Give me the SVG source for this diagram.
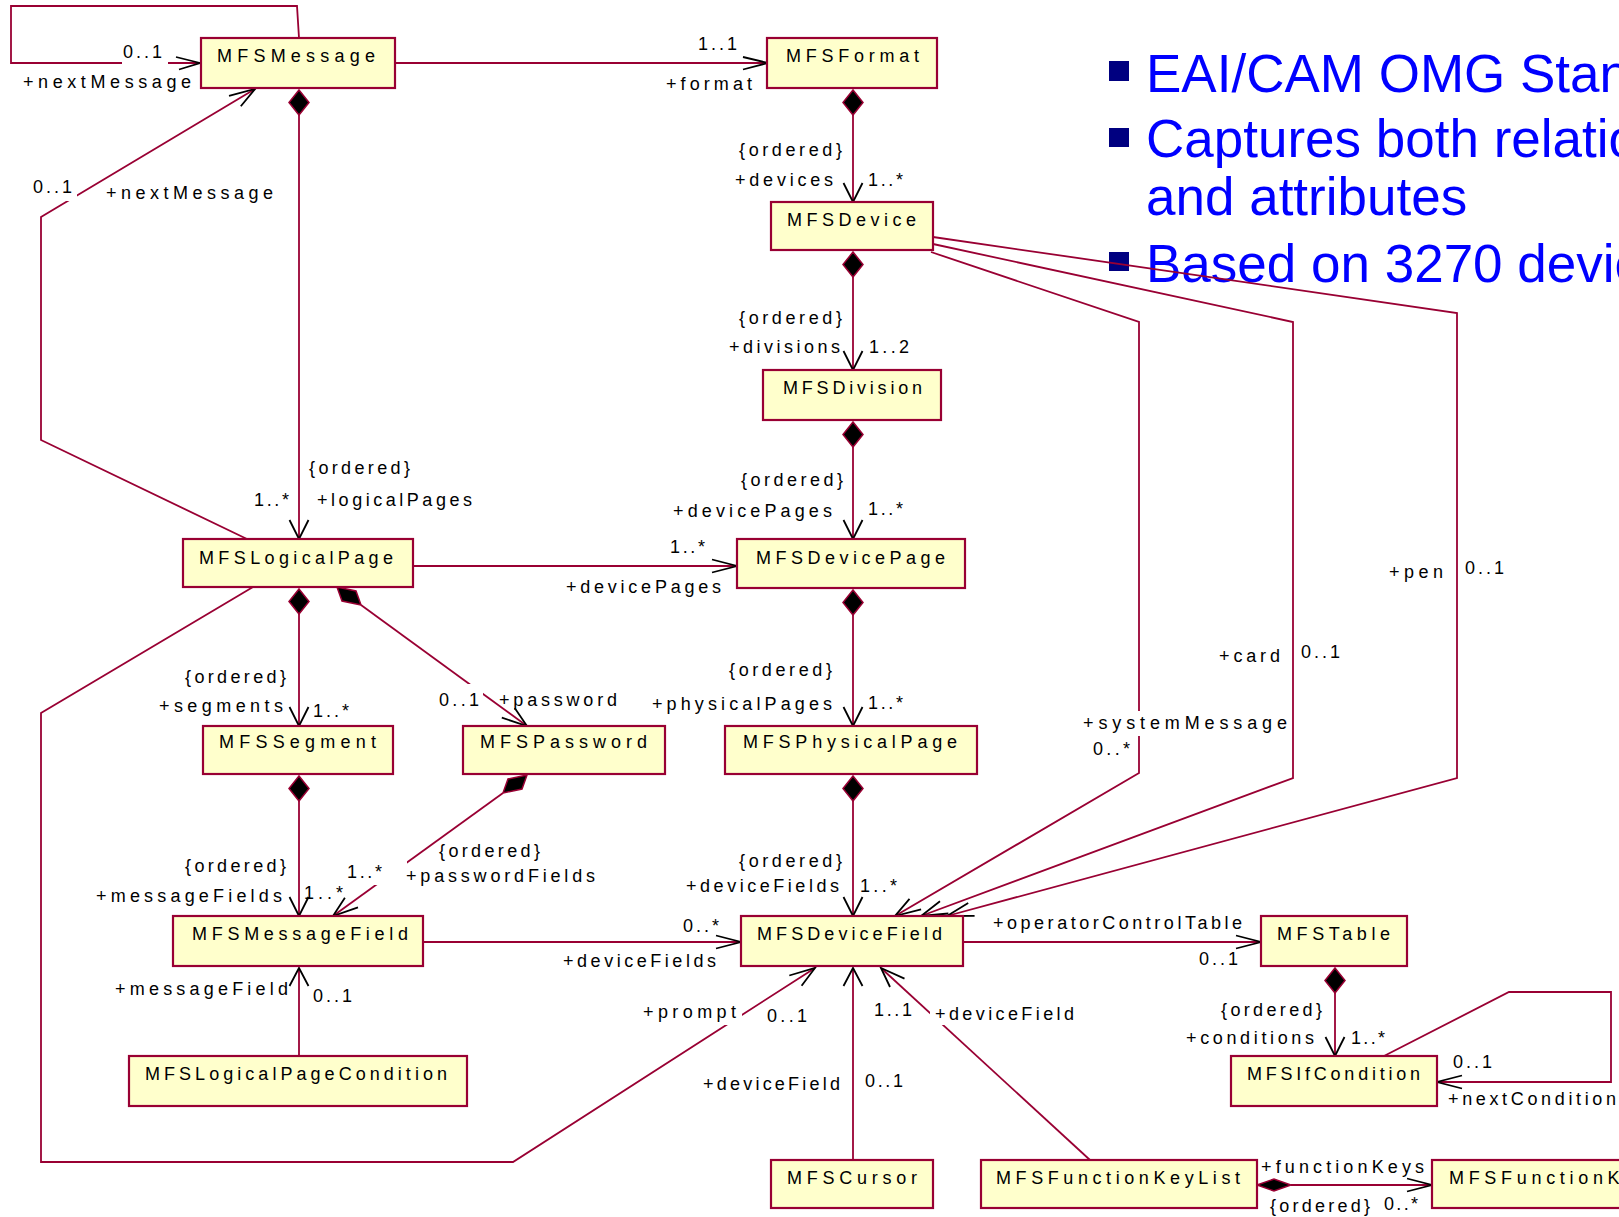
<svg xmlns="http://www.w3.org/2000/svg" width="1619" height="1217" viewBox="0 0 1619 1217">
<style>
  .box { fill:#FFFFCC; stroke:#990033; stroke-width:2.2; }
  .t { font-family:"Liberation Sans", Arial, sans-serif; font-size:18px; fill:#000; }
  .ln { fill:none; stroke:#990033; stroke-width:1.8; }
  .arr { fill:none; stroke:#000; stroke-width:1.8; }
  .dia { fill:#000; stroke:#990033; stroke-width:1.5; }
  .bg { fill:#fff; }
  .bul { fill:#000080; }
  .big { font-family:"Liberation Sans", Arial, sans-serif; font-size:53px; fill:#0000FF; }
</style>
<rect width="1619" height="1217" fill="#fff"/>

<!-- bullet list -->
<g id="bullets">
  <rect class="bul" x="1109" y="61" width="20" height="20"/>
  <text class="big" x="1146" y="92">EAI/CAM OMG Standard</text>
  <rect class="bul" x="1109" y="128" width="20" height="19"/>
  <text class="big" x="1146" y="157">Captures both relationships</text>
  <text class="big" x="1146" y="215">and attributes</text>
  <rect class="bul" x="1109" y="252" width="20" height="19"/>
  <text class="big" x="1146" y="282">Based on 3270 devices</text>
</g>

<g id="connectors">
  <!-- association lines -->
  <path class="ln" d="M299,38 L297,6 L11,6 L11,63 L200,63"/>
  <path class="ln" d="M395,63 L768,63"/>
  <path class="ln" d="M247,539 L41,440 L41,217 L255,89"/>
  <path class="ln" d="M299,115 L299,539"/>
  <path class="ln" d="M853,115 L853,202"/>
  <path class="ln" d="M853,277 L853,370"/>
  <path class="ln" d="M853,447 L853,539"/>
  <path class="ln" d="M853,615 L853,726"/>
  <path class="ln" d="M853,801 L853,916"/>
  <path class="ln" d="M299,614 L299,726"/>
  <path class="ln" d="M299,801 L299,916"/>
  <path class="ln" d="M413,566 L737,566"/>
  <path class="ln" d="M361,605 L527,726"/>
  <path class="ln" d="M503,793 L333,916"/>
  <path class="ln" d="M253,587 L41,713 L41,1162 L513,1162 L815,968"/>
  <path class="ln" d="M931,252 L1139,322 L1139,773 L895,916"/>
  <path class="ln" d="M933,244 L1293,322 L1293,778 L921,916"/>
  <path class="ln" d="M933,237 L1457,313 L1457,778 L947,916"/>
  <path class="ln" d="M423,942 L741,942"/>
  <path class="ln" d="M963,942 L1261,942"/>
  <path class="ln" d="M299,1056 L299,968"/>
  <path class="ln" d="M853,1160 L853,968"/>
  <path class="ln" d="M1090,1160 L881,968"/>
  <path class="ln" d="M1335,993 L1335,1056"/>
  <path class="ln" d="M1384,1056 L1509,992 L1611,992 L1611,1082 L1437,1082"/>
  <path class="ln" d="M1291,1185 L1432,1185"/>

  <!-- composition diamonds -->
  <path class="dia" d="M299,90 L309,102.5 L299,115 L289,102.5 Z"/>
  <path class="dia" d="M853,90 L863,102.5 L853,115 L843,102.5 Z"/>
  <path class="dia" d="M853,252 L863,264.5 L853,277 L843,264.5 Z"/>
  <path class="dia" d="M853,422 L863,434.5 L853,447 L843,434.5 Z"/>
  <path class="dia" d="M853,590 L863,602.5 L853,615 L843,602.5 Z"/>
  <path class="dia" d="M853,776 L863,788.5 L853,801 L843,788.5 Z"/>
  <path class="dia" d="M299,589 L309,601.5 L299,614 L289,601.5 Z"/>
  <path class="dia" d="M299,776 L309,788.5 L299,801 L289,788.5 Z"/>
  <path class="dia" d="M1335,968 L1345,980.5 L1335,993 L1325,980.5 Z"/>
  <path class="dia" d="M337,587 L342,601 L361,605 L356,591 Z"/>
  <path class="dia" d="M527,775 L508,779 L503,793 L522,789 Z"/>
  <path class="dia" d="M1257,1185 L1274,1179 L1291,1185 L1274,1191 Z"/>

  <!-- navigability arrowheads -->
  <path class="arr" d="M176,57 L200,63 L179,69.5"/>
  <path class="arr" d="M743,57 L768,63 L743,69.5"/>
  <path class="arr" d="M712,559.5 L737,566 L712,572.5"/>
  <path class="arr" d="M716,935.5 L741,942 L716,948.5"/>
  <path class="arr" d="M1236,935.5 L1261,942 L1236,948.5"/>
  <path class="arr" d="M1407,1178.5 L1432,1185 L1407,1191.5"/>
  <path class="arr" d="M1462,1075.5 L1437,1082 L1462,1088.5"/>
  <path class="arr" d="M843.5,183 L853,202 L862.5,183"/>
  <path class="arr" d="M843.5,351 L853,370 L862.5,351"/>
  <path class="arr" d="M843.5,520 L853,539 L862.5,520"/>
  <path class="arr" d="M843.5,707 L853,726 L862.5,707"/>
  <path class="arr" d="M843.5,897 L853,916 L862.5,897"/>
  <path class="arr" d="M289.5,520 L299,539 L308.5,520"/>
  <path class="arr" d="M289.5,707 L299,726 L308.5,707"/>
  <path class="arr" d="M289.5,897 L299,916 L308.5,897"/>
  <path class="arr" d="M1325.5,1037 L1335,1056 L1344.5,1037"/>
  <path class="arr" d="M289.5,986 L299,968 L308.5,986"/>
  <path class="arr" d="M843.5,986 L853,968 L862.5,986"/>
  <path class="arr" d="M229,95.8 L255,89 L240.8,106.3"/>
  <path class="arr" d="M789.3,975.5 L815,968 L801.6,985.7"/>
  <path class="arr" d="M904.5,978.6 L881,968 L890,987"/>
  <path class="arr" d="M909.5,898.8 L895,916 L921.1,909.4"/>
  <path class="arr" d="M940,901.3 L921,916 L948.4,913.5"/>
  <path class="arr" d="M968.2,903 L947,916 L974.6,915.8"/>
  <path class="arr" d="M501.8,717.7 L527,726 L514.7,707.9"/>
  <path class="arr" d="M344.9,897.8 L333,916 L358,907.4"/>

  <!-- label backgrounds where a label sits on a line -->
  <rect class="bg" x="122" y="43" width="46" height="21"/>
  <rect class="bg" x="31" y="177" width="46" height="24"/>
  <rect class="bg" x="1081" y="711" width="208" height="25"/>
  <rect class="bg" x="437" y="684" width="46" height="26"/>
  <rect class="bg" x="345" y="861" width="62" height="24"/>
  <rect class="bg" x="641" y="1001" width="101" height="24"/>
  <rect class="bg" x="930" y="1000" width="146" height="25"/>

  <!-- role names, multiplicities and constraints -->
  <g lengthAdjust="spacing">
    <text class="t" x="123" y="57.5" textLength="39">0..1</text>
    <text class="t" x="23" y="87.5" textLength="168">+nextMessage</text>
    <text class="t" x="33" y="193" textLength="39">0..1</text>
    <text class="t" x="106" y="199" textLength="167">+nextMessage</text>
    <text class="t" x="698" y="50" textLength="39">1..1</text>
    <text class="t" x="666" y="90" textLength="86">+format</text>
    <text class="t" x="739" y="156" textLength="103">{ordered}</text>
    <text class="t" x="735" y="186" textLength="98">+devices</text>
    <text class="t" x="868" y="186" textLength="35">1..*</text>
    <text class="t" x="309" y="474" textLength="101">{ordered}</text>
    <text class="t" x="254" y="506" textLength="35">1..*</text>
    <text class="t" x="317" y="506" textLength="155">+logicalPages</text>
    <text class="t" x="739" y="324" textLength="103">{ordered}</text>
    <text class="t" x="729" y="353" textLength="111">+divisions</text>
    <text class="t" x="869" y="353" textLength="40">1..2</text>
    <text class="t" x="741" y="486" textLength="102">{ordered}</text>
    <text class="t" x="673" y="517" textLength="159">+devicePages</text>
    <text class="t" x="868" y="515" textLength="35">1..*</text>
    <text class="t" x="670" y="553" textLength="35">1..*</text>
    <text class="t" x="566" y="593" textLength="155">+devicePages</text>
    <text class="t" x="1389" y="578" textLength="54">+pen</text>
    <text class="t" x="1465" y="574" textLength="39">0..1</text>
    <text class="t" x="1219" y="662" textLength="61">+card</text>
    <text class="t" x="1301" y="658" textLength="39">0..1</text>
    <text class="t" x="1083" y="729" textLength="204">+systemMessage</text>
    <text class="t" x="1093" y="755" textLength="37">0..*</text>
    <text class="t" x="185" y="683" textLength="101">{ordered}</text>
    <text class="t" x="159" y="712" textLength="124">+segments</text>
    <text class="t" x="313" y="717" textLength="36">1..*</text>
    <text class="t" x="439" y="706" textLength="40">0..1</text>
    <text class="t" x="499" y="706" textLength="118">+password</text>
    <text class="t" x="729" y="676" textLength="103">{ordered}</text>
    <text class="t" x="652" y="710" textLength="180">+physicalPages</text>
    <text class="t" x="868" y="709" textLength="35">1..*</text>
    <text class="t" x="185" y="872" textLength="101">{ordered}</text>
    <text class="t" x="96" y="902" textLength="186">+messageFields</text>
    <text class="t" x="304" y="899" textLength="39">1..*</text>
    <text class="t" x="347" y="878" textLength="35">1..*</text>
    <text class="t" x="439" y="857" textLength="101">{ordered}</text>
    <text class="t" x="406" y="882" textLength="189">+passwordFields</text>
    <text class="t" x="739" y="867" textLength="103">{ordered}</text>
    <text class="t" x="686" y="892" textLength="153">+deviceFields</text>
    <text class="t" x="860" y="892" textLength="37">1..*</text>
    <text class="t" x="683" y="932" textLength="36">0..*</text>
    <text class="t" x="563" y="967" textLength="153">+deviceFields</text>
    <text class="t" x="993" y="929" textLength="249">+operatorControlTable</text>
    <text class="t" x="1199" y="965" textLength="39">0..1</text>
    <text class="t" x="115" y="995" textLength="173">+messageField</text>
    <text class="t" x="313" y="1002" textLength="39">0..1</text>
    <text class="t" x="643" y="1018" textLength="93">+prompt</text>
    <text class="t" x="767" y="1022" textLength="40">0..1</text>
    <text class="t" x="874" y="1016" textLength="38">1..1</text>
    <text class="t" x="935" y="1020" textLength="139">+deviceField</text>
    <text class="t" x="703" y="1090" textLength="137">+deviceField</text>
    <text class="t" x="865" y="1087" textLength="38">0..1</text>
    <text class="t" x="1221" y="1016" textLength="101">{ordered}</text>
    <text class="t" x="1186" y="1044" textLength="128">+conditions</text>
    <text class="t" x="1351" y="1044" textLength="34">1..*</text>
    <text class="t" x="1453" y="1068" textLength="39">0..1</text>
    <text class="t" x="1448" y="1105" textLength="168">+nextCondition</text>
    <text class="t" x="1261" y="1173" textLength="163">+functionKeys</text>
    <text class="t" x="1270" y="1212" textLength="100">{ordered}</text>
    <text class="t" x="1384" y="1210" textLength="34">0..*</text>
  </g>
</g>

<!-- classes -->
<g id="mfs-message"><rect class="box" x="201" y="38" width="194" height="50"/><text class="t" x="217" y="62" textLength="158" lengthAdjust="spacing">MFSMessage</text></g>
<g id="mfs-format"><rect class="box" x="767" y="38" width="170" height="50"/><text class="t" x="786" y="62" textLength="133" lengthAdjust="spacing">MFSFormat</text></g>
<g id="mfs-device"><rect class="box" x="771" y="202" width="162" height="48"/><text class="t" x="787" y="226" textLength="129" lengthAdjust="spacing">MFSDevice</text></g>
<g id="mfs-division"><rect class="box" x="763" y="370" width="178" height="50"/><text class="t" x="783" y="394" textLength="139" lengthAdjust="spacing">MFSDivision</text></g>
<g id="mfs-logical-page"><rect class="box" x="183" y="539" width="230" height="48"/><text class="t" x="199" y="564" textLength="194" lengthAdjust="spacing">MFSLogicalPage</text></g>
<g id="mfs-device-page"><rect class="box" x="737" y="539" width="228" height="49"/><text class="t" x="756" y="564" textLength="189" lengthAdjust="spacing">MFSDevicePage</text></g>
<g id="mfs-segment"><rect class="box" x="203" y="726" width="190" height="48"/><text class="t" x="219" y="748" textLength="157" lengthAdjust="spacing">MFSSegment</text></g>
<g id="mfs-password"><rect class="box" x="463" y="726" width="202" height="48"/><text class="t" x="480" y="748" textLength="167" lengthAdjust="spacing">MFSPassword</text></g>
<g id="mfs-physical-page"><rect class="box" x="725" y="726" width="252" height="48"/><text class="t" x="743" y="748" textLength="214" lengthAdjust="spacing">MFSPhysicalPage</text></g>
<g id="mfs-message-field"><rect class="box" x="173" y="916" width="250" height="50"/><text class="t" x="192" y="940" textLength="216" lengthAdjust="spacing">MFSMessageField</text></g>
<g id="mfs-device-field"><rect class="box" x="741" y="916" width="222" height="50"/><text class="t" x="757" y="940" textLength="185" lengthAdjust="spacing">MFSDeviceField</text></g>
<g id="mfs-table"><rect class="box" x="1261" y="916" width="146" height="50"/><text class="t" x="1277" y="940" textLength="113" lengthAdjust="spacing">MFSTable</text></g>
<g id="mfs-logical-page-condition"><rect class="box" x="129" y="1056" width="338" height="50"/><text class="t" x="145" y="1080" textLength="302" lengthAdjust="spacing">MFSLogicalPageCondition</text></g>
<g id="mfs-if-condition"><rect class="box" x="1231" y="1056" width="206" height="50"/><text class="t" x="1247" y="1080" textLength="173" lengthAdjust="spacing">MFSIfCondition</text></g>
<g id="mfs-cursor"><rect class="box" x="771" y="1160" width="162" height="48"/><text class="t" x="787" y="1184" textLength="130" lengthAdjust="spacing">MFSCursor</text></g>
<g id="mfs-function-key-list"><rect class="box" x="981" y="1160" width="276" height="48"/><text class="t" x="996" y="1184" textLength="244" lengthAdjust="spacing">MFSFunctionKeyList</text></g>
<g id="mfs-function-key"><rect class="box" x="1432" y="1160" width="230" height="48"/><text class="t" x="1449" y="1184" textLength="199" lengthAdjust="spacing">MFSFunctionKey</text></g>
</svg>
